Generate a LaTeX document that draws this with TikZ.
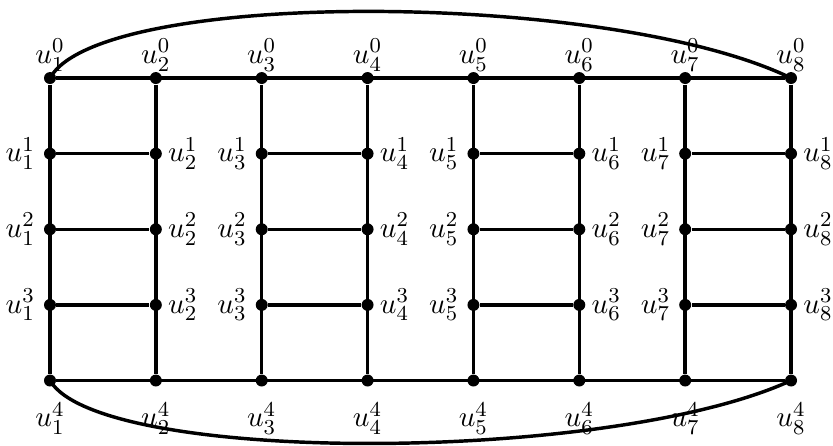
\documentclass[tikz,border=0pt]{standalone}
\usepackage{amsmath}
\usetikzlibrary{positioning}
\tikzset{
    % --- Vertex (filled dot) ---
    vertex/.style = {
        circle, fill=black,
        minimum size=4.5pt, inner sep=0pt
    },
    % --- Vertex label ---
    vlabel/.style = {
        font=\fontsize{11pt}{13pt}\selectfont,
        inner sep=2pt
    },
    % --- Graph edge ---
    edge/.style = {
        line width=1.3pt
    }
}

\begin{document}
\begin{tikzpicture}

\useasboundingbox (-0.661, 1.032) rectangle (10.355, -4.86);

% ---------------------------------------------------------
% 1. Vertices (column i, level j)
% ---------------------------------------------------------
\foreach \i in {1,...,8} {
    \foreach \j in {0,...,4} {
        \node[vertex] (U\i\j) at ({1.4*(\i-1)}, -\j) {};
    }
}

% ---------------------------------------------------------
% 2. Labels
% ---------------------------------------------------------
\foreach \i in {1,...,8} {
    \node[vlabel, above=-2pt of U\i0] {$u_{\i}^{0}$};
    \node[vlabel, below=3.6pt of U\i4] {$u_{\i}^{4}$};
}
\foreach \i in {1,3,5,7} {
    \foreach \j in {1,2,3} {
        \node[vlabel, left=1pt of U\i\j] {$u_{\i}^{\j}$};
    }
}
\foreach \i in {2,4,6,8} {
    \foreach \j in {1,2,3} {
        \node[vlabel, right=0pt of U\i\j] {$u_{\i}^{\j}$};
    }
}

% ---------------------------------------------------------
% 3. Edges
% ---------------------------------------------------------
% Columns
\foreach \i in {1,...,8} {
    \draw[edge] (U\i0) -- (U\i4);
}
% Top and bottom rows
\draw[edge] (U10) -- (U80);
\draw[edge] (U14) -- (U84);
% Rungs between paired columns
\foreach \i/\k in {1/2, 3/4, 5/6, 7/8} {
    \foreach \j in {1,2,3} {
        \draw[edge] (U\i\j) -- (U\k\j);
    }
}

% Outer arcs
\draw[edge] (U10.center) .. controls (0.66, 1.19) and (7.41, 1.16) .. (U80.center);
\draw[edge] (U14.center) .. controls (0.66, -5.12) and (7.41, -5.10) .. (U84.center);

\end{tikzpicture}
\end{document}
